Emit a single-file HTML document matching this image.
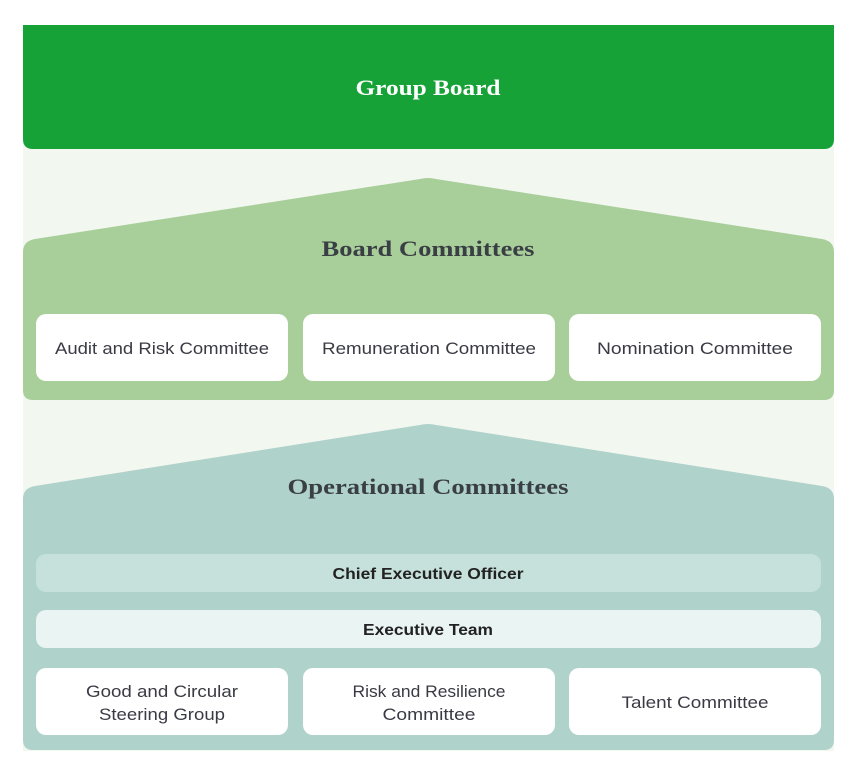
<!DOCTYPE html>
<html><head><meta charset="utf-8"><style>
html,body{margin:0;padding:0;background:#fff;}
svg{display:block;}
.h{font-family:"Liberation Serif",serif;font-weight:bold;font-size:22px;fill:#3a3f45;}
.t{font-family:"Liberation Sans",sans-serif;font-size:17px;fill:#3a3a44;}
.b{font-family:"Liberation Sans",sans-serif;font-size:16px;font-weight:bold;fill:#222;}
</style></head><body>
<svg width="865" height="765" viewBox="0 0 865 765" xmlns="http://www.w3.org/2000/svg">
<rect x="23" y="25" width="811" height="726" fill="#f2f7f0"/>
<path d="M23 25 H834 V139 Q834 149 824 149 H33 Q23 149 23 139 Z" fill="#17a238"/>
<text x="428" y="95" text-anchor="middle" font-family="Liberation Serif,serif" font-weight="bold" font-size="22" fill="#fff" textLength="145" lengthAdjust="spacingAndGlyphs">Group Board</text>

<path d="M23 252 Q23 241 35 239 L420 179 Q428 177 436 179 L822 239 Q834 241 834 252 V390 Q834 400 824 400 H33 Q23 400 23 390 Z" fill="#a8cf99"/>
<text x="428" y="256" text-anchor="middle" class="h" textLength="213" lengthAdjust="spacingAndGlyphs">Board Committees</text>
<rect x="36" y="314" width="252" height="67" rx="10" fill="#fff"/>
<rect x="303" y="314" width="252" height="67" rx="10" fill="#fff"/>
<rect x="569" y="314" width="252" height="67" rx="10" fill="#fff"/>
<text x="162" y="354" text-anchor="middle" class="t" textLength="214" lengthAdjust="spacingAndGlyphs">Audit and Risk Committee</text>
<text x="429" y="354" text-anchor="middle" class="t" textLength="214" lengthAdjust="spacingAndGlyphs">Remuneration Committee</text>
<text x="695" y="354" text-anchor="middle" class="t" textLength="196" lengthAdjust="spacingAndGlyphs">Nomination Committee</text>

<path d="M23 499 Q23 488 35 486 L420 425 Q428 423 436 425 L822 486 Q834 488 834 499 V740 Q834 750 824 750 H33 Q23 750 23 740 Z" fill="#afd2cb"/>
<text x="428" y="494" text-anchor="middle" class="h" textLength="281" lengthAdjust="spacingAndGlyphs">Operational Committees</text>
<rect x="36" y="554" width="785" height="38" rx="10" fill="#c6e1dc"/>
<text x="428" y="579" text-anchor="middle" class="b" textLength="191" lengthAdjust="spacingAndGlyphs">Chief Executive Officer</text>
<rect x="36" y="610" width="785" height="38" rx="10" fill="#eaf4f2"/>
<text x="428" y="635" text-anchor="middle" class="b" textLength="130" lengthAdjust="spacingAndGlyphs">Executive Team</text>
<rect x="36" y="668" width="252" height="67" rx="10" fill="#fff"/>
<rect x="303" y="668" width="252" height="67" rx="10" fill="#fff"/>
<rect x="569" y="668" width="252" height="67" rx="10" fill="#fff"/>
<text x="162" y="697" text-anchor="middle" class="t" textLength="152" lengthAdjust="spacingAndGlyphs">Good and Circular</text>
<text x="162" y="720" text-anchor="middle" class="t" textLength="126" lengthAdjust="spacingAndGlyphs">Steering Group</text>
<text x="429" y="697" text-anchor="middle" class="t" textLength="153" lengthAdjust="spacingAndGlyphs">Risk and Resilience</text>
<text x="429" y="720" text-anchor="middle" class="t" textLength="93" lengthAdjust="spacingAndGlyphs">Committee</text>
<text x="695" y="708" text-anchor="middle" class="t" textLength="147" lengthAdjust="spacingAndGlyphs">Talent Committee</text>
</svg>
</body></html>
